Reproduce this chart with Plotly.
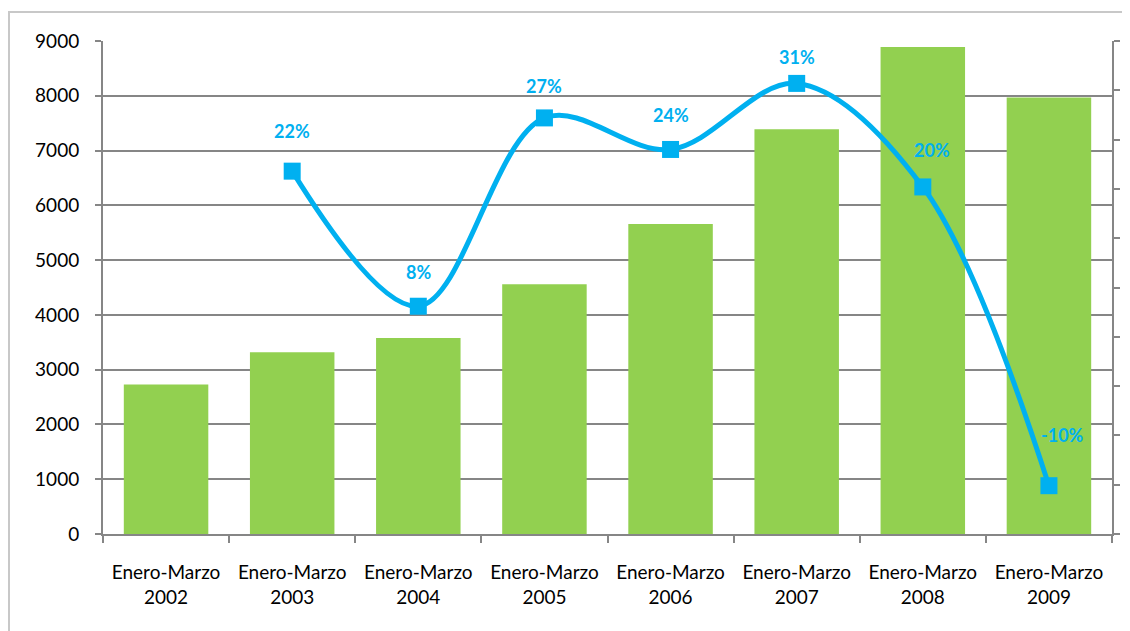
import plotly.graph_objects as go

categories = ["Enero-Marzo<br>2002", "Enero-Marzo<br>2003", "Enero-Marzo<br>2004",
              "Enero-Marzo<br>2005", "Enero-Marzo<br>2006", "Enero-Marzo<br>2007",
              "Enero-Marzo<br>2008", "Enero-Marzo<br>2009"]
bar_values = [2730, 3320, 3580, 4560, 5660, 7390, 8890, 7970]
growth_cats = categories[1:]
growth_values = [0.218, 0.081, 0.272, 0.240, 0.307, 0.202, -0.101]
growth_labels = ["22%", "8%", "27%", "24%", "31%", "20%", "-10%"]
label_shift_y = [40, 34, 32, 34, 26, 37, 51]
label_shift_x = [0, 0, 0, 0, 0, 9, 14]

GREEN = "#92D050"
BLUE = "#00B0F0"
GRID = "#868686"
FONT = "Lato, Calibri, sans-serif"

# page body has an 8px default margin; figure sized to fit the window
W, H = 1122, 623
L, T, R, B = 95, 33, 18, 97
pw, ph = W - L - R, H - T - B

fig = go.Figure()
fig.add_trace(go.Bar(x=categories, y=bar_values, marker=dict(color=GREEN, line=dict(width=0)),
                     yaxis="y", showlegend=False))
fig.add_trace(go.Scatter(x=growth_cats, y=growth_values, yaxis="y2", mode="lines+markers",
                         line=dict(color=BLUE, width=5, shape="spline", smoothing=1.0),
                         marker=dict(symbol="square", size=17, color=BLUE),
                         showlegend=False, cliponaxis=False))

for c, v, t, sy, sx in zip(growth_cats, growth_values, growth_labels, label_shift_y, label_shift_x):
    fig.add_annotation(x=c, y=v, yref="y2", text=f"<b>{t}</b>", showarrow=False,
                       yshift=sy, xshift=sx, font=dict(color=BLUE, size=18, family=FONT))

fig.update_layout(
    width=W, height=H,
    margin=dict(l=L, r=R, t=T, b=B, autoexpand=False),
    paper_bgcolor="white", plot_bgcolor="white",
    bargap=0.33,
    font=dict(family=FONT, size=19, color="black"),
    xaxis=dict(showgrid=False, showline=True, linecolor=GRID, linewidth=2,
               ticks="outside", tickson="boundaries", ticklen=7, tickwidth=2, tickcolor=GRID,
               ticklabelstandoff=20, automargin=False,
               tickfont=dict(size=19, family=FONT, color="black")),
    yaxis=dict(range=[0, 9000], dtick=1000, showgrid=True, gridcolor=GRID, gridwidth=1.5,
               showline=True, linecolor=GRID, linewidth=2, ticks="outside", ticklen=6,
               tickwidth=2, tickcolor=GRID, zeroline=False, ticklabelstandoff=12,
               automargin=False,
               tickfont=dict(size=19, family=FONT, color="black")),
    yaxis2=dict(range=[-0.15, 0.35], dtick=0.05, overlaying="y", side="right",
                showgrid=False, showticklabels=False, showline=True, linecolor=GRID,
                linewidth=2, ticks="outside", ticklen=6, tickwidth=2, tickcolor=GRID,
                zeroline=False, automargin=False),
    shapes=[dict(type="rect", xref="paper", yref="paper",
                 x0=(1 - L) / pw, x1=1.2, y0=-0.5, y1=1 + (T - 4) / ph,
                 line=dict(color="#C8C8C8", width=2), layer="below")],
)

fig.write_html("out.html")
